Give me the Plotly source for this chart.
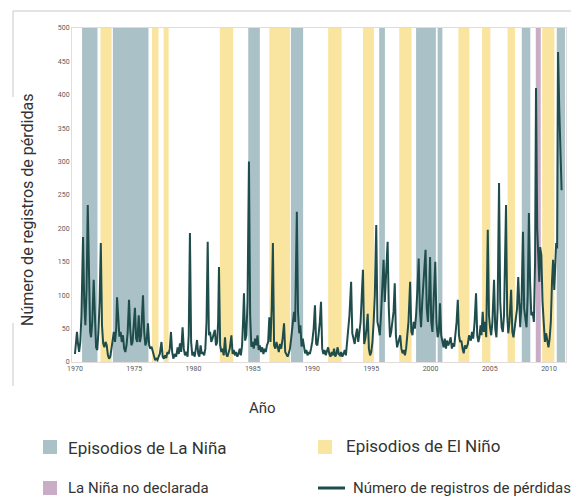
import plotly.graph_objects as go

# ---------------- data ----------------
years = [1970.00,1970.08,1970.17,1970.25,1970.35,1970.45,1970.55,1970.68,1970.78,1970.88,1970.98,
1971.08,1971.18,1971.28,1971.36,1971.46,1971.58,1971.68,1971.78,1971.88,1971.98,
1972.08,1972.18,1972.28,1972.38,1972.48,1972.58,1972.68,1972.78,1972.88,1972.98,
1973.08,1973.18,1973.28,1973.38,1973.48,1973.55,1973.65,1973.75,1973.85,1973.95,
1974.05,1974.15,1974.25,1974.35,1974.45,1974.56,1974.66,1974.76,1974.86,1974.96,
1975.06,1975.16,1975.26,1975.38,1975.48,1975.58,1975.66,1975.74,1975.84,1975.94,
1976.04,1976.16,1976.26,1976.36,1976.46,1976.56,1976.66,1976.76,1976.86,1976.96,
1977.06,1977.16,1977.30,1977.40,1977.50,1977.60,1977.70,1977.80,1977.90,
1978.00,1978.10,1978.20,1978.30,1978.42,1978.54,1978.66,1978.76,1978.86,1978.96,
1979.08,1979.18,1979.28,1979.40,1979.50,1979.60,1979.70,1979.80,1979.90,
1980.00,1980.10,1980.20,1980.30,1980.40,1980.50,1980.60,1980.70,1980.80,1980.90,
1981.00,1981.10,1981.20,1981.30,1981.40,1981.50,1981.60,1981.70,1981.80,1981.90,
1982.00,1982.08,1982.15,1982.25,1982.35,1982.45,1982.55,1982.66,1982.76,1982.86,1982.96,
1983.06,1983.20,1983.30,1983.40,1983.50,1983.60,1983.70,1983.80,1983.90,
1984.00,1984.10,1984.18,1984.26,1984.36,1984.46,1984.56,1984.68,1984.78,1984.88,1984.98,
1985.08,1985.20,1985.30,1985.40,1985.50,1985.60,1985.70,1985.80,1985.90,
1986.00,1986.10,1986.20,1986.30,1986.40,1986.50,1986.60,1986.70,1986.80,1986.90,
1987.00,1987.10,1987.20,1987.30,1987.40,1987.52,1987.64,1987.74,1987.84,1987.94,
1988.04,1988.14,1988.24,1988.34,1988.48,1988.58,1988.72,1988.82,1988.92,
1989.02,1989.12,1989.22,1989.32,1989.42,1989.52,1989.62,1989.72,1989.82,1989.92,
1990.02,1990.14,1990.25,1990.35,1990.45,1990.55,1990.66,1990.76,1990.86,1990.96,
1991.06,1991.16,1991.26,1991.36,1991.46,1991.56,1991.66,1991.76,1991.86,1991.96,
1992.06,1992.16,1992.26,1992.36,1992.46,1992.56,1992.66,1992.76,1992.86,1992.96,
1993.06,1993.16,1993.30,1993.40,1993.50,1993.60,1993.70,1993.80,1993.90,
1994.00,1994.10,1994.20,1994.30,1994.40,1994.50,1994.60,1994.70,1994.80,1994.90,
1995.00,1995.10,1995.20,1995.30,1995.42,1995.52,1995.62,1995.72,1995.82,1995.92,
1996.04,1996.14,1996.24,1996.38,1996.48,1996.58,1996.68,1996.78,1996.88,1996.98,
1997.08,1997.18,1997.30,1997.44,1997.54,1997.64,1997.74,1997.84,1997.94,
1998.04,1998.14,1998.28,1998.38,1998.48,1998.58,1998.68,1998.78,1998.90,
1999.00,1999.10,1999.20,1999.30,1999.40,1999.58,1999.68,1999.78,1999.88,1999.96,
2000.06,2000.16,2000.26,2000.40,2000.50,2000.60,2000.70,2000.80,2000.90,
2001.00,2001.10,2001.20,2001.30,2001.40,2001.50,2001.60,2001.70,2001.80,2001.90,
2002.00,2002.10,2002.20,2002.30,2002.40,2002.50,2002.60,2002.70,2002.80,2002.90,
2003.00,2003.15,2003.25,2003.40,2003.50,2003.60,2003.72,2003.84,2003.94,
2004.04,2004.12,2004.22,2004.30,2004.40,2004.50,2004.60,2004.70,2004.83,2004.93,
2005.02,2005.12,2005.22,2005.36,2005.46,2005.56,2005.66,2005.78,2005.88,
2006.00,2006.10,2006.20,2006.37,2006.47,2006.56,2006.66,2006.80,2006.90,
2007.00,2007.10,2007.20,2007.30,2007.40,2007.50,2007.57,2007.68,2007.80,2007.90,
2008.00,2008.10,2008.20,2008.30,2008.40,2008.50,2008.62,2008.72,2008.82,2008.90,
2009.00,2009.10,2009.18,2009.25,2009.35,2009.45,2009.55,2009.65,2009.75,2009.85,2009.95,
2010.05,2010.15,2010.25,2010.34,2010.44,2010.52,2010.60,2010.68,2010.76,2010.86,2010.96,2011.06]

losses = [12,25,45,28,15,30,70,187,90,55,110,
235,110,45,37,60,123,50,22,18,45,
90,178,55,28,22,30,25,10,5,8,
20,35,45,30,50,97,55,38,45,30,
40,20,15,25,45,93,50,25,30,55,
81,35,30,70,30,40,65,100,45,25,
30,58,25,20,23,15,8,3,5,3,
8,12,30,8,5,10,6,15,12,
20,45,15,5,12,8,22,12,28,15,
52,20,10,15,8,40,193,30,10,
15,8,20,33,12,8,25,12,15,10,
20,60,180,40,45,30,35,40,48,25,
30,60,142,25,15,20,10,37,12,8,15,
20,40,12,18,10,15,8,12,20,
10,25,60,103,32,40,90,300,70,23,30,
20,35,25,40,18,25,15,22,12,
20,15,25,30,67,30,80,178,25,20,
30,23,15,27,20,35,58,15,10,8,
13,20,35,50,75,60,225,75,43,
55,23,35,20,13,18,10,15,12,20,
30,50,85,27,25,40,60,90,20,12,
18,10,15,22,12,8,15,10,20,8,
12,22,12,10,15,8,12,18,10,30,
45,70,120,43,35,27,40,50,30,
45,60,100,138,27,35,50,72,20,10,
15,30,60,100,205,60,52,40,70,110,
153,90,120,180,80,37,45,60,75,118,
40,22,30,40,20,13,18,10,20,
40,60,120,45,40,60,50,70,110,
155,80,52,90,120,168,80,60,100,157,
60,45,90,150,60,37,45,88,40,
30,22,35,20,32,25,30,37,20,28,
23,40,60,93,40,30,32,20,13,25,
20,27,40,32,45,35,60,103,40,
30,37,55,40,75,45,60,37,198,70,
52,40,60,123,50,37,80,268,90,
52,45,70,235,70,43,60,108,45,
37,50,60,80,127,60,52,90,195,80,
60,52,100,223,120,70,75,60,150,410,
200,140,120,172,160,90,52,30,43,30,22,
35,60,120,153,108,138,178,170,464,380,300,257]

lanina_start = [1970.6, 1973.2, 1984.62, 1988.22, 1995.67, 1998.78, 2000.6, 2007.7, 2010.65]
lanina_end   = [1971.9, 1976.2, 1985.6, 1989.25, 1996.15, 2000.45, 2001.0, 2008.42, 2011.35]
elnino_start = [1972.15, 1976.5, 1977.48, 1982.22, 1986.4, 1991.36, 1994.3, 1997.36, 2002.35, 2004.35, 2006.5, 2009.42]
elnino_end   = [1973.1, 1977.05, 1977.9, 1983.35, 1988.14, 1992.5, 1995.22, 1998.4, 2003.28, 2005.05, 2007.12, 2010.45]
nodecl_start = [2008.88]
nodecl_end   = [2009.3]

x_ticks = [1970, 1975, 1980, 1985, 1990, 1995, 2000, 2005, 2010]
y_ticks = [0, 50, 100, 150, 200, 250, 300, 350, 400, 450, 500]

# ---------------- styling ----------------
W, H = 571, 497
L, R, T, B = 72, 566, 28, 362
FONT = "Roboto, Liberation Sans Narrow, DejaVu Sans Condensed, sans-serif"
C_NINA = "rgba(170,193,199,1)"
C_NINO = "rgba(250,229,160,1)"
C_NODE = "rgba(201,172,198,1)"
C_LINE = "#1f4d4c"

def xp(px):
    return (px - L) / (R - L)

def yp(py):
    return (B - py) / (B - T)

shapes = []
for s, e in zip(lanina_start, lanina_end):
    shapes.append(dict(type="rect", xref="x", yref="paper", x0=s, x1=e, y0=0, y1=1,
                       fillcolor=C_NINA, line=dict(width=0), layer="below"))
for s, e in zip(elnino_start, elnino_end):
    shapes.append(dict(type="rect", xref="x", yref="paper", x0=s, x1=e, y0=0, y1=1,
                       fillcolor=C_NINO, line=dict(width=0), layer="below"))
for s, e in zip(nodecl_start, nodecl_end):
    shapes.append(dict(type="rect", xref="x", yref="paper", x0=s, x1=e, y0=0, y1=1,
                       fillcolor=C_NODE, line=dict(width=0), layer="below"))

# outer frame (top + left, broken by y title)
frame_col = "#c9c9c9"
shapes.append(dict(type="line", xref="paper", yref="paper", x0=xp(13), x1=xp(571), y0=yp(11), y1=yp(11),
                   line=dict(color=frame_col, width=1)))
shapes.append(dict(type="line", xref="paper", yref="paper", x0=xp(13), x1=xp(13), y0=yp(11), y1=yp(97),
                   line=dict(color=frame_col, width=1)))
shapes.append(dict(type="line", xref="paper", yref="paper", x0=xp(13), x1=xp(13), y0=yp(323), y1=yp(386),
                   line=dict(color=frame_col, width=1)))

# legend markers
def square(px0, py0, size, col):
    return dict(type="rect", xref="paper", yref="paper", x0=xp(px0), x1=xp(px0 + size),
                y0=yp(py0 + size), y1=yp(py0), fillcolor=col, line=dict(width=0))

shapes.append(square(43, 440, 14, C_NINA))
shapes.append(square(318, 440, 14, C_NINO))
shapes.append(square(43, 481, 14, C_NODE))
shapes.append(dict(type="line", xref="paper", yref="paper", x0=xp(318), x1=xp(345), y0=yp(488), y1=yp(488),
                   line=dict(color=C_LINE, width=3)))

annotations = [
    dict(text="Número de registros de pérdidas", xref="paper", yref="paper", x=xp(27), y=yp(210),
         textangle=-90, showarrow=False, font=dict(family=FONT, size=16, color="#333333"),
         xanchor="center", yanchor="middle"),
    dict(text="Año", xref="paper", yref="paper", x=xp(262), y=yp(408), showarrow=False,
         font=dict(family=FONT, size=15, color="#333333"), xanchor="center", yanchor="middle"),
    dict(text="Episodios de La Niña", xref="paper", yref="paper", x=xp(66), y=yp(448), showarrow=False,
         font=dict(family=FONT, size=17, color="#333333"), xanchor="left", yanchor="middle"),
    dict(text="Episodios de El Niño", xref="paper", yref="paper", x=xp(344), y=yp(446), showarrow=False,
         font=dict(family=FONT, size=17, color="#333333"), xanchor="left", yanchor="middle"),
    dict(text="La Niña no declarada", xref="paper", yref="paper", x=xp(66), y=yp(488), showarrow=False,
         font=dict(family=FONT, size=15, color="#333333"), xanchor="left", yanchor="middle"),
    dict(text="Número de registros de pérdidas", xref="paper", yref="paper", x=xp(351), y=yp(488),
         showarrow=False, font=dict(family=FONT, size=15, color="#333333"), xanchor="left", yanchor="middle"),
]

fig = go.Figure()
fig.add_trace(go.Scatter(x=years, y=losses, mode="lines",
                         line=dict(color=C_LINE, width=2), showlegend=False, hoverinfo="x+y"))

fig.update_layout(
    width=W, height=H,
    margin=dict(l=L, r=W - R, t=T, b=H - B, pad=0),
    paper_bgcolor="white", plot_bgcolor="white",
    showlegend=False,
    shapes=shapes, annotations=annotations,
    font=dict(family=FONT),
    xaxis=dict(range=[1969.75, 2011.43], tickmode="array", tickvals=x_ticks,
               ticktext=[str(v) for v in x_ticks], showgrid=False, zeroline=False,
               showline=True, linecolor="#e2dcdc", linewidth=1, mirror=True, ticks="",
               tickfont=dict(family=FONT, size=7, color="#5a5a5a")),
    yaxis=dict(range=[0, 500], tickmode="array", tickvals=y_ticks,
               ticktext=[str(v) for v in y_ticks], showgrid=False, zeroline=False,
               showline=True, linecolor="#e2dcdc", linewidth=1, mirror=True, ticks="",
               tickfont=dict(family=FONT, size=7, color="#5a5a5a")),
)

fig.write_html("out.html", config={"displayModeBar": False},
               post_script="document.body.style.margin='0';document.body.style.padding='0';document.body.style.overflow='hidden';")
